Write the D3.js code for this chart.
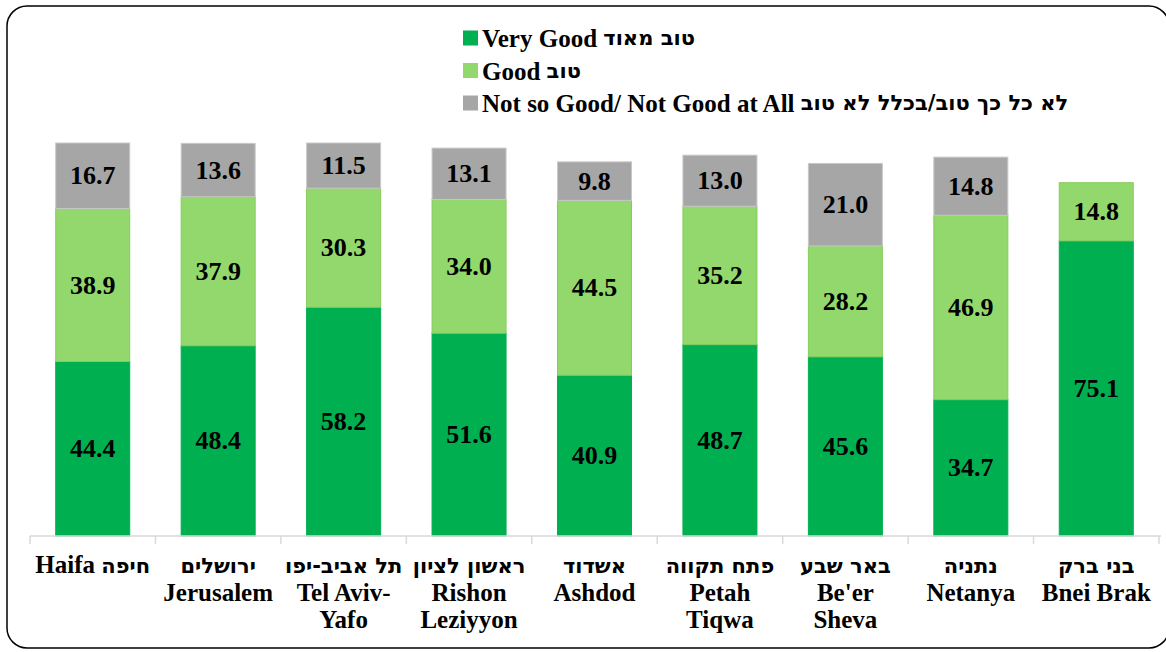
<!DOCTYPE html>
<html>
<head>
<meta charset="utf-8">
<script src="https://cdn.jsdelivr.net/npm/d3@7"></script>
<style>
body{margin:0;background:#fff;}
text{font-family:"Liberation Serif",serif;font-weight:bold;fill:#000;}
.heb{font-family:"DejaVu Sans",sans-serif;font-weight:bold;}
</style>
</head>
<body>
<div id="chart"></div>
<script>
var w=1166, h=652;
var pad={top:143, bottom:116, left:30, right:7};

//Chart data
var cities=[["Haifa חיפה"],["ירושלים","Jerusalem"],["תל אביב-יפו","Tel Aviv-","Yafo"],["ראשון לציון","Rishon","Leziyyon"],
            ["אשדוד","Ashdod"],["פתח תקווה","Petah","Tiqwa"],["באר שבע","Be'er","Sheva"],["נתניה","Netanya"],["בני ברק","Bnei Brak"]];
var veryGood=[44.4,48.4,58.2,51.6,40.9,48.7,45.6,34.7,75.1];
var good=[38.9,37.9,30.3,34.0,44.5,35.2,28.2,46.9,14.8];
var notGood=[16.7,13.6,11.5,13.1,9.8,13.0,21.0,14.8,null];
var seriesNames=["Very Good טוב מאוד","Good טוב","Not so Good/ Not Good at All לא כל כך טוב/בכלל לא טוב"];
var colors=["#00B050","#92D86C","#A6A6A6"];
var strokes=["#00B050","#86CC5C","#C8C8C8"];

//Split a label into Latin and Hebrew runs
var hebRe=/[\u0590-\u05FF][\u0590-\u05FF\s\/\-]*[\u0590-\u05FF]|[\u0590-\u05FF]/g;
function runs(s){
    var out=[], last=0, m;
    hebRe.lastIndex=0;
    while((m=hebRe.exec(s))!==null){
        if(m.index>last) out.push({t:s.slice(last,m.index),h:false});
        out.push({t:m[0],h:true});
        last=m.index+m[0].length;
    }
    if(last<s.length) out.push({t:s.slice(last),h:false});
    return out;
}

var svg=d3.select("#chart").append("svg").attr("width",w).attr("height",h);

//Rounded frame
svg.append("rect").attr("x",7).attr("y",6).attr("width",1162).attr("height",642)
   .attr("rx",20).attr("fill","none").attr("stroke","#000").attr("stroke-width",1.5);

var xScale=d3.scaleBand().domain(d3.range(cities.length))
             .range([pad.left,w-pad.right]).paddingInner(0.41).paddingOuter(0.205);
var yScale=d3.scaleLinear().domain([0,100]).range([h-pad.bottom,pad.top]);

//Stack data
var rows=cities.map(function(c,i){return {i:i,vg:veryGood[i],g:good[i],ng:notGood[i]||0};});
var stack=d3.stack().keys(["vg","g","ng"])(rows);

var layers=svg.selectAll(".layer").data(stack).enter().append("g").attr("class","layer");
layers.selectAll("rect")
      .data(function(d,k){return d.map(function(p){return {p:p,k:k};});})
      .enter().append("rect")
      .filter(function(d){return d.p[1]-d.p[0]>0;})
      .attr("x",function(d){return xScale(d.p.data.i);})
      .attr("y",function(d){return yScale(d.p[1]);})
      .attr("width",xScale.bandwidth())
      .attr("height",function(d){return yScale(d.p[0])-yScale(d.p[1]);})
      .style("fill",function(d){return colors[d.k];})
      .style("stroke",function(d){return strokes[d.k];})
      .style("stroke-width",1);

//Value labels
layers.selectAll("text")
      .data(function(d){return d;})
      .enter().append("text")
      .filter(function(d){return d[1]-d[0]>0;})
      .attr("x",function(d){return xScale(d.data.i)+xScale.bandwidth()/2;})
      .attr("y",function(d){return yScale((d[0]+d[1])/2);})
      .attr("text-anchor","middle")
      .attr("dominant-baseline","central")
      .style("font-size","26px")
      .text(function(d){return (d[1]-d[0]).toFixed(1);});

//Axis
var axis=svg.append("g").attr("transform","translate(0,"+(h-pad.bottom)+")");
axis.append("line").attr("x1",pad.left).attr("x2",w-pad.right+2).attr("y1",0).attr("y2",0)
    .style("stroke","#D9D9D9").style("stroke-width",1.5);
var step=xScale.step();
axis.selectAll(".tick").data(d3.range(cities.length+1)).enter().append("line")
    .attr("x1",function(d){return pad.left+d*step;}).attr("x2",function(d){return pad.left+d*step;})
    .attr("y1",0).attr("y2",8).style("stroke","#D9D9D9").style("stroke-width",1.5);

//Category labels, one text per line
cities.forEach(function(lines,i){
    lines.forEach(function(line,j){
        var t=svg.append("text")
                 .attr("x",xScale(i)+xScale.bandwidth()/2)
                 .attr("y",573+j*27.5)
                 .attr("text-anchor","middle")
                 .style("font-size","25px");
        t.selectAll("tspan").data(runs(line)).enter().append("tspan")
         .attr("class",function(d){return d.h?"heb":null;})
         .style("font-size",function(d){return d.h?"21px":null;})
         .text(function(d){return d.t;});
    });
});

//Legend
var legend=svg.append("g").selectAll("g").data(seriesNames).enter().append("g")
    .attr("transform",function(d,i){return "translate(463,"+(38+i*32.5)+")";});
legend.append("rect").attr("x",0).attr("y",-7.5).attr("width",15).attr("height",15)
      .style("fill",function(d,i){return colors[i];});
legend.append("text").attr("x",19).attr("y",0).attr("dominant-baseline","central")
      .style("font-size","25px")
      .selectAll("tspan").data(function(d){return runs(d);}).enter().append("tspan")
      .attr("class",function(d){return d.h?"heb":null;})
      .style("font-size",function(d){return d.h?"21px":null;})
      .text(function(d){return d.t;});
</script>
</body>
</html>
